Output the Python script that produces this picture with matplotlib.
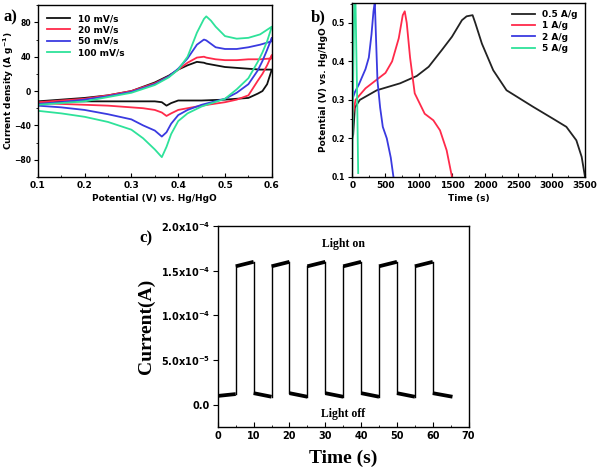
import matplotlib
matplotlib.use("Agg")
import matplotlib.pyplot as plt
from matplotlib.ticker import MultipleLocator

# ---- panel a: CV curves (forward 0.1->0.6, then reverse 0.6->0.1)
cv_fwd_v = [0.1, 0.15, 0.2, 0.25, 0.3, 0.35, 0.38, 0.4, 0.42, 0.44, 0.455, 0.46, 0.47, 0.48, 0.5, 0.525, 0.55, 0.575, 0.6]
cv_rev_v = [0.6, 0.59, 0.58, 0.57, 0.55, 0.525, 0.5, 0.45, 0.42, 0.4, 0.385, 0.375, 0.365, 0.35, 0.325, 0.3, 0.25, 0.2, 0.15, 0.1]

cv_labels = ["10 mV/s", "20 mV/s", "50 mV/s", "100 mV/s"]
cv_colors = ["#111111", "#ff2a4a", "#3a3ae0", "#2ee29a"]

cv_fwd_i = [
    [-12, -10, -8, -5, 0, 10, 18, 25, 30, 34, 33, 32, 31, 30, 28, 27, 26, 25, 25],
    [-13, -11, -9, -5, 0, 9, 17, 25, 33, 39, 40, 39, 38, 37, 36, 36, 37, 37, 38],
    [-15, -13, -10, -6, -1, 8, 17, 26, 38, 54, 60, 59, 55, 51, 49, 49, 51, 54, 58],
    [-16, -14, -12, -7, -2, 7, 16, 25, 40, 68, 84, 87, 82, 75, 64, 61, 62, 66, 75],
]
cv_rev_i = [
    [25, 8, 0, -3, -8, -9, -10, -11, -11, -11, -14, -17, -13, -12, -12, -12, -12, -12, -12, -13],
    [42, 30, 20, 12, -5, -10, -13, -17, -20, -22, -26, -29, -25, -22, -20, -19, -17, -16, -15, -14],
    [62, 48, 35, 24, 8, -2, -9, -16, -22, -28, -38, -48, -53, -46, -40, -33, -27, -22, -19, -17],
    [75, 58, 45, 34, 15, 2, -9, -18, -26, -35, -50, -65, -77, -68, -55, -45, -36, -30, -26, -23],
]

# ---- panel b: charge/discharge
gcd_labels = ["0.5 A/g", "1 A/g", "2 A/g", "5 A/g"]
gcd_colors = ["#222222", "#ff2a4a", "#3a3ae0", "#2ee29a"]
gcd_t = [
    [0, 15, 40, 115, 370, 720, 970, 1150, 1350, 1500, 1650, 1720, 1810, 1850, 1950, 2120, 2320, 2720, 3020, 3220, 3370, 3450, 3500],
    [0, 15, 50, 200, 350, 500, 600, 700, 760, 790, 820, 870, 940, 1090, 1220, 1320, 1420, 1500],
    [0, 40, 100, 200, 250, 290, 320, 340, 360, 380, 420, 460, 520, 580, 620],
    [0, 15, 35, 45, 60, 75, 90],
]
gcd_v = [
    [0.2, 0.21, 0.28, 0.3, 0.325, 0.343, 0.362, 0.386, 0.43, 0.464, 0.507, 0.517, 0.52, 0.5, 0.446, 0.377, 0.325, 0.282, 0.251, 0.23, 0.195, 0.152, 0.1],
    [0.25, 0.265, 0.3, 0.33, 0.35, 0.37, 0.4, 0.46, 0.52, 0.53, 0.5, 0.41, 0.317, 0.264, 0.247, 0.221, 0.169, 0.1],
    [0.3, 0.32, 0.34, 0.38, 0.41, 0.47, 0.53, 0.555, 0.45, 0.35, 0.28, 0.23, 0.2, 0.15, 0.1],
    [0.1, 0.35, 0.6, 0.6, 0.45, 0.3, 0.11],
]

# ---- panel c: photocurrent on/off
on_start = [5, 15, 25, 35, 45, 55]
on_i0 = [1.55e-4, 1.55e-4, 1.55e-4, 1.55e-4, 1.55e-4, 1.55e-4]
on_i1 = [1.60e-4, 1.60e-4, 1.60e-4, 1.60e-4, 1.60e-4, 1.60e-4]
off_start = [0.2, 10, 20, 30, 40, 50, 60]
off_end = [5, 15, 25, 35, 45, 55, 65.5]
off_i0 = [1.0e-5, 1.3e-5, 1.3e-5, 1.3e-5, 1.3e-5, 1.3e-5, 1.3e-5]
off_i1 = [1.2e-5, 0.9e-5, 0.9e-5, 0.9e-5, 0.9e-5, 0.9e-5, 0.9e-5]
c_yticks = [0, 5e-5, 1e-4, 1.5e-4, 2e-4]
c_yticklabels = ["0.0", "5.0x10$^{-5}$", "1.0x10$^{-4}$", "1.5x10$^{-4}$", "2.0x10$^{-4}$"]

plt.rcParams["font.family"] = "DejaVu Sans"
plt.rcParams["font.weight"] = "bold"
plt.rcParams["mathtext.default"] = "bf"

fig = plt.figure(figsize=(6, 4.73), dpi=100)

def style(ax, xfs=6.5, yfs=5.5):
    for s in ax.spines.values():
        s.set_linewidth(1.0)
    ax.tick_params(axis="x", which="both", direction="in", labelsize=xfs, pad=3)
    ax.tick_params(axis="y", which="both", direction="out", labelsize=yfs, pad=2)
    ax.tick_params(which="major", length=3)
    ax.tick_params(which="minor", length=1.8)
    for lab in ax.get_xticklabels() + ax.get_yticklabels():
        lab.set_fontweight("bold")

# panel a
axa = fig.add_axes([0.063, 0.626, 0.39, 0.363])
for k in range(4):
    axa.plot(cv_fwd_v + cv_rev_v, cv_fwd_i[k] + cv_rev_i[k], color=cv_colors[k], lw=1.3, label=cv_labels[k])
axa.set_xlim(0.1, 0.6)
axa.set_ylim(-100, 100)
axa.set_xticks([0.1, 0.2, 0.3, 0.4, 0.5, 0.6])
axa.set_yticks([-80, -40, 0, 40, 80])
axa.xaxis.set_minor_locator(MultipleLocator(0.05))
axa.yaxis.set_minor_locator(MultipleLocator(20))
style(axa)
axa.set_xlabel("Potential (V) vs. Hg/HgO", fontsize=6.5, fontweight="bold", labelpad=3)
axa.set_ylabel("Current density (A g$^{-1}$)", fontsize=6.5, fontweight="bold")
axa.yaxis.set_label_coords(-0.095, 0.5)
axa.legend(loc="upper left", frameon=False, handlelength=2.6, labelspacing=0.25,
           borderaxespad=0.6, prop={"weight": "bold", "size": 6.5})

# panel b
axb = fig.add_axes([0.587, 0.626, 0.388, 0.368])
for k in range(4):
    axb.plot(gcd_t[k], gcd_v[k], color=gcd_colors[k], lw=1.3, label=gcd_labels[k])
axb.set_xlim(0, 3500)
axb.set_ylim(0.1, 0.552)
axb.set_xticks(range(0, 3501, 500))
axb.set_yticks([0.1, 0.2, 0.3, 0.4, 0.5])
axb.xaxis.set_minor_locator(MultipleLocator(250))
axb.yaxis.set_minor_locator(MultipleLocator(0.05))
style(axb)
axb.set_xlabel("Time (s)", fontsize=6.5, fontweight="bold", labelpad=3)
axb.set_ylabel("Potential (V) vs. Hg/HgO", fontsize=6.5, fontweight="bold")
axb.yaxis.set_label_coords(-0.105, 0.5)
axb.legend(loc="upper right", frameon=False, handlelength=2.6, labelspacing=0.25,
           borderaxespad=0.4, prop={"weight": "bold", "size": 6.5})

# panel c
axc = fig.add_axes([0.363, 0.097, 0.418, 0.425])
for k in range(len(on_start)):
    axc.plot([on_start[k], on_start[k] + 5], [on_i0[k], on_i1[k]], color="black", lw=2.7, solid_capstyle="butt")
    axc.plot([off_end[k], on_start[k]], [off_i1[k], on_i0[k]], color="black", lw=1.0)
    axc.plot([on_start[k] + 5, off_start[k + 1]], [on_i1[k], off_i0[k + 1]], color="black", lw=1.0)
for k in range(len(off_start)):
    axc.plot([off_start[k], off_end[k]], [off_i0[k], off_i1[k]], color="black", lw=2.7, solid_capstyle="butt")
axc.set_xlim(0, 70)
axc.set_ylim(-2.5e-5, 2.0e-4)
axc.set_xticks(range(0, 71, 10))
axc.xaxis.set_minor_locator(MultipleLocator(5))
axc.set_yticks(c_yticks)
axc.set_yticklabels(c_yticklabels)
style(axc, xfs=7, yfs=7)
axc.tick_params(which="major", length=3.5)
axc.set_xlabel("Time (s)", fontsize=14, fontweight="bold", family="Liberation Serif", labelpad=6)
axc.set_ylabel("Current(A)", fontsize=14, fontweight="bold", family="Liberation Serif", labelpad=4)
axc.text(35, 1.8e-4, "Light on", ha="center", va="center", fontsize=8.5, fontweight="bold", family="Liberation Serif")
axc.text(35, -1.0e-5, "Light off", ha="center", va="center", fontsize=8.5, fontweight="bold", family="Liberation Serif")

# panel letters
fig.text(0.005, 0.955, "a)", fontsize=12, fontweight="bold", family="Liberation Serif")
fig.text(0.518, 0.955, "b)", fontsize=12, fontweight="bold", family="Liberation Serif")
fig.text(0.232, 0.488, "c)", fontsize=12, fontweight="bold", family="Liberation Serif")

fig.savefig("out.png", dpi=100)
